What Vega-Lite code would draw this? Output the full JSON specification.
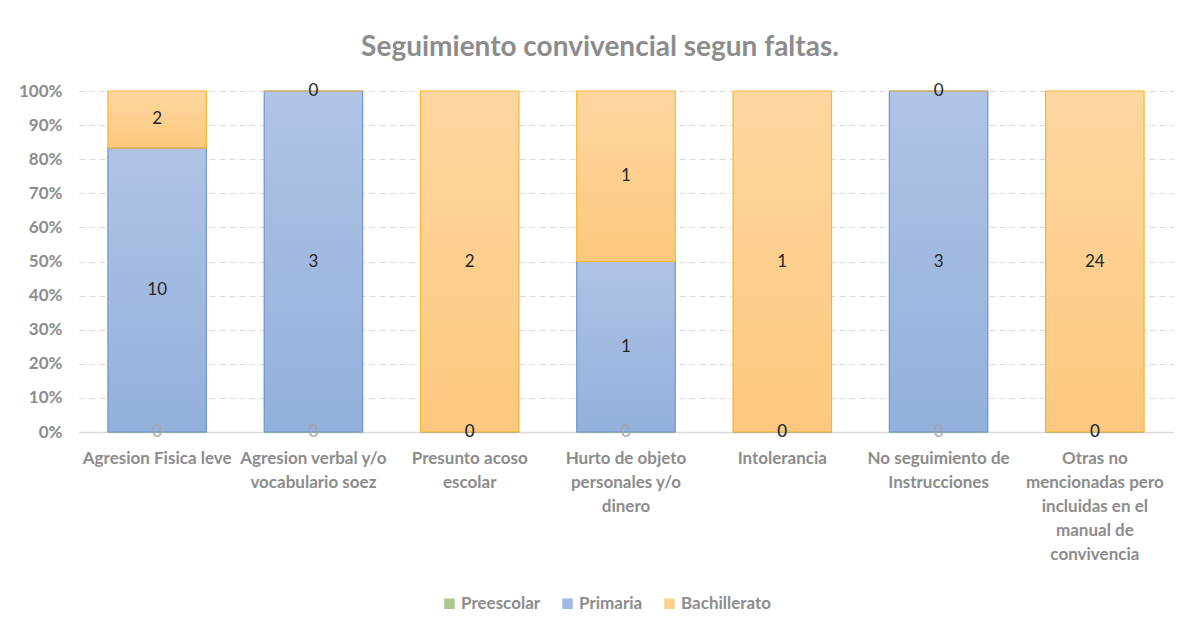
{
  "$schema": "https://vega.github.io/schema/vega-lite/v6.json",
  "autosize": "none",
  "width": 1094,
  "height": 341,
  "padding": {"left": 79, "top": 91, "right": 13, "bottom": 203},
  "background": "#ffffff",
  "title": {
    "text": "Seguimiento convivencial segun faltas.",
    "font": "Lato",
    "fontSize": 28,
    "fontWeight": "bold",
    "color": "#8c8c8c",
    "anchor": "middle",
    "dx": -26,
    "offset": 20
  },
  "data": {
    "values": [
      {"cat": "Agresion Fisica leve", "serie": "Preescolar", "orden": 1, "valor": 0},
      {"cat": "Agresion Fisica leve", "serie": "Primaria", "orden": 2, "valor": 10},
      {"cat": "Agresion Fisica leve", "serie": "Bachillerato", "orden": 3, "valor": 2},
      {"cat": "Agresion verbal y/o vocabulario soez", "serie": "Preescolar", "orden": 1, "valor": 0},
      {"cat": "Agresion verbal y/o vocabulario soez", "serie": "Primaria", "orden": 2, "valor": 3},
      {"cat": "Agresion verbal y/o vocabulario soez", "serie": "Bachillerato", "orden": 3, "valor": 0},
      {"cat": "Presunto acoso escolar", "serie": "Preescolar", "orden": 1, "valor": 0},
      {"cat": "Presunto acoso escolar", "serie": "Primaria", "orden": 2, "valor": 0},
      {"cat": "Presunto acoso escolar", "serie": "Bachillerato", "orden": 3, "valor": 2},
      {"cat": "Hurto de objeto personales y/o dinero", "serie": "Preescolar", "orden": 1, "valor": 0},
      {"cat": "Hurto de objeto personales y/o dinero", "serie": "Primaria", "orden": 2, "valor": 1},
      {"cat": "Hurto de objeto personales y/o dinero", "serie": "Bachillerato", "orden": 3, "valor": 1},
      {"cat": "Intolerancia", "serie": "Preescolar", "orden": 1, "valor": 0},
      {"cat": "Intolerancia", "serie": "Primaria", "orden": 2, "valor": 0},
      {"cat": "Intolerancia", "serie": "Bachillerato", "orden": 3, "valor": 1},
      {"cat": "No seguimiento de Instrucciones", "serie": "Preescolar", "orden": 1, "valor": 0},
      {"cat": "No seguimiento de Instrucciones", "serie": "Primaria", "orden": 2, "valor": 3},
      {"cat": "No seguimiento de Instrucciones", "serie": "Bachillerato", "orden": 3, "valor": 0},
      {"cat": "Otras no mencionadas pero incluidas en el manual de convivencia", "serie": "Preescolar", "orden": 1, "valor": 0},
      {"cat": "Otras no mencionadas pero incluidas en el manual de convivencia", "serie": "Primaria", "orden": 2, "valor": 0},
      {"cat": "Otras no mencionadas pero incluidas en el manual de convivencia", "serie": "Bachillerato", "orden": 3, "valor": 24}
    ]
  },
  "encoding": {
    "x": {
      "field": "cat",
      "type": "nominal",
      "sort": null,
      "title": null,
      "scale": {"paddingInner": 0.37, "paddingOuter": 0.185},
      "axis": {
        "labelAngle": 0,
        "labelFont": "Lato",
        "labelFontSize": 17,
        "labelFontWeight": "bold",
        "labelColor": "#8c8c8c",
        "labelLineHeight": 24,
        "labelPadding": 18,
        "labelBaseline": "top",
        "labelLimit": 220,
        "labelOverlap": false,
        "ticks": false,
        "domainColor": "#d9d9d9",
        "domainWidth": 1.5,
        "labelExpr": "datum.value == 'Agresion verbal y/o vocabulario soez' ? ['Agresion verbal y/o', 'vocabulario soez'] : datum.value == 'Presunto acoso escolar' ? ['Presunto acoso', 'escolar'] : datum.value == 'Hurto de objeto personales y/o dinero' ? ['Hurto de objeto', 'personales y/o', 'dinero'] : datum.value == 'No seguimiento de Instrucciones' ? ['No seguimiento de', 'Instrucciones'] : datum.value == 'Otras no mencionadas pero incluidas en el manual de convivencia' ? ['Otras no', 'mencionadas pero', 'incluidas en el', 'manual de', 'convivencia'] : datum.value"
      }
    },
    "y": {
      "field": "valor",
      "type": "quantitative",
      "stack": "normalize",
      "title": null,
      "scale": {"domain": [0, 1]},
      "axis": {
        "values": [0, 0.1, 0.2, 0.3, 0.4, 0.5, 0.6, 0.7, 0.8, 0.9, 1],
        "format": ".0%",
        "labelFont": "Lato",
        "labelFontSize": 17,
        "labelFontWeight": "bold",
        "labelColor": "#8c8c8c",
        "labelPadding": 17,
        "labelOverlap": false,
        "ticks": false,
        "domain": false,
        "grid": true,
        "gridColor": "#d9d9d9",
        "gridDash": [6, 4],
        "gridWidth": 1
      }
    },
    "order": {"field": "orden", "type": "quantitative", "sort": "ascending"}
  },
  "layer": [
    {
      "mark": {"type": "bar"},
      "encoding": {
        "color": {
          "field": "serie",
          "type": "nominal",
          "scale": {
            "domain": ["Preescolar", "Primaria", "Bachillerato"],
            "range": ["#a9c98f", "#a0b8e0", "#fdd08f"]
          },
          "legend": {
            "title": null,
            "orient": "none",
            "legendX": 362,
            "legendY": 504,
            "direction": "horizontal",
            "symbolType": "square",
            "symbolSize": 110,
            "symbolStrokeWidth": 1,
            "labelFont": "Lato",
            "labelFontSize": 17,
            "labelFontWeight": "bold",
            "labelColor": "#8c8c8c",
            "labelOffset": 3,
            "columnPadding": 18
          }
        }
      }
    },
    {
      "mark": {"type": "bar", "strokeWidth": 1.2},
      "encoding": {
        "fill": {
          "condition": [
            {"test": "datum.serie == 'Primaria'", "value": {"gradient": "linear", "x1": 0, "y1": 0, "x2": 0, "y2": 1, "stops": [{"offset": 0, "color": "#afc3e5"}, {"offset": 1, "color": "#93b0dc"}]}},
            {"test": "datum.serie == 'Bachillerato'", "value": {"gradient": "linear", "x1": 0, "y1": 0, "x2": 0, "y2": 1, "stops": [{"offset": 0, "color": "#fdd7a0"}, {"offset": 1, "color": "#fcc87e"}]}}
          ],
          "value": {"gradient": "linear", "x1": 0, "y1": 0, "x2": 0, "y2": 1, "stops": [{"offset": 0, "color": "#b5d3a0"}, {"offset": 1, "color": "#9cc47f"}]}
        },
        "stroke": {
          "condition": [
            {"test": "datum.serie == 'Primaria'", "value": "#7096cc"},
            {"test": "datum.serie == 'Bachillerato'", "value": "#f5b630"}
          ],
          "value": "#70ad47"
        }
      }
    },
    {
      "mark": {"type": "text", "font": "Lato", "fontSize": 17, "baseline": "middle", "align": "center"},
      "encoding": {
        "y": {
          "field": "valor",
          "type": "quantitative",
          "stack": "normalize",
          "bandPosition": 0.5,
          "title": null,
          "scale": {"domain": [0, 1]},
          "axis": {
            "values": [0, 0.1, 0.2, 0.3, 0.4, 0.5, 0.6, 0.7, 0.8, 0.9, 1],
            "format": ".0%",
            "labelFont": "Lato",
            "labelFontSize": 17,
            "labelFontWeight": "bold",
            "labelColor": "#8c8c8c",
            "labelPadding": 17,
            "labelOverlap": false,
            "ticks": false,
            "domain": false,
            "grid": true,
            "gridColor": "#d9d9d9",
            "gridDash": [6, 4],
            "gridWidth": 1
          }
        },
        "text": {"field": "valor", "type": "quantitative"},
        "color": {
          "condition": {"test": "datum.serie == 'Preescolar'", "value": "#a6a6a6"},
          "value": "#262626"
        }
      }
    }
  ],
  "config": {
    "view": {"stroke": null},
    "legend": {"symbolStrokeColor": null}
  }
}
